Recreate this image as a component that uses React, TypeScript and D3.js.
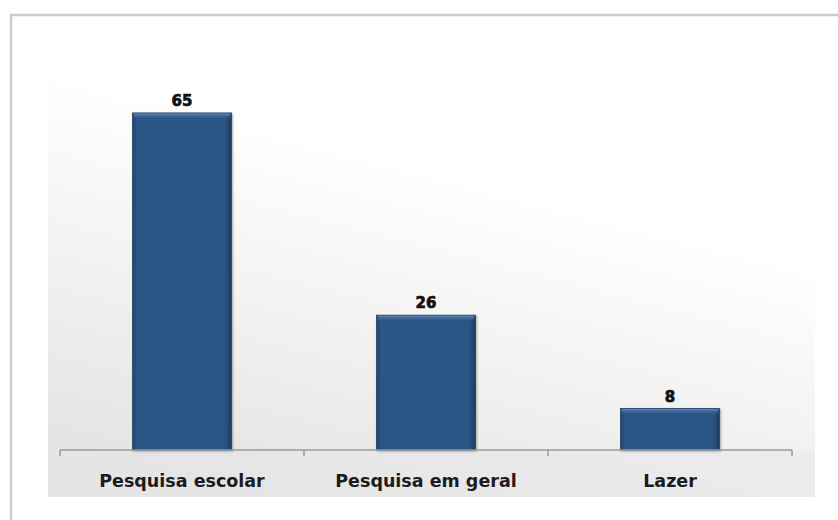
import React from 'react';
import * as d3 from 'd3';

const categories = ['Pesquisa escolar', 'Pesquisa em geral', 'Lazer'];
const values = [65, 26, 8];

const W = 838;
const H = 520;
const axisY = 450;
const axisX0 = 60;
const axisX1 = 792;

const App = () => {
  // band scale for the 3 categories, bars ~40% of each band
  const x = d3.scaleBand<string>()
    .domain(categories)
    .range([axisX0, axisX1])
    .paddingInner(0.595)
    .paddingOuter(0.2975);

  const y = d3.scaleLinear()
    .domain([0, 70])
    .range([axisY, 87]);

  // tick positions at band boundaries
  const step = x.step();
  const tickXs = d3.range(categories.length + 1).map(i => axisX0 + i * step);

  return (
    <svg width={W} height={H} style={{ position: 'fixed', left: 0, top: 0, display: 'block', background: '#fff' }}>
      <defs>
        <linearGradient id="panelGrad" x1="0.75" y1="0" x2="0.3" y2="1">
          <stop offset="0" stopColor="#ffffff" />
          <stop offset="0.3" stopColor="#ffffff" />
          <stop offset="1" stopColor="#e4e4e4" />
        </linearGradient>
        <linearGradient id="barSide" x1="0" y1="0" x2="1" y2="0">
          <stop offset="0" stopColor="#22466f" />
          <stop offset="0.05" stopColor="#2c5787" />
          <stop offset="0.93" stopColor="#2c5787" />
          <stop offset="1" stopColor="#1d3c62" />
        </linearGradient>
        <linearGradient id="barTop" x1="0" y1="0" x2="0" y2="1">
          <stop offset="0" stopColor="#6488b3" />
          <stop offset="1" stopColor="#2c5787" stopOpacity="0" />
        </linearGradient>
        <filter id="shadow" x="-10%" y="-10%" width="120%" height="120%">
          <feGaussianBlur in="SourceAlpha" stdDeviation="1.2" />
          <feOffset dx="1" dy="1" />
          <feComponentTransfer><feFuncA type="linear" slope="0.35" /></feComponentTransfer>
          <feMerge><feMergeNode /><feMergeNode in="SourceGraphic" /></feMerge>
        </filter>
      </defs>

      {/* outer frame, runs off the right and bottom */}
      <rect x={11} y={15} width={W + 20} height={H + 20} fill="#fff" stroke="#cdcdcd" strokeWidth={2.5} />

      {/* plot panel */}
      <rect x={48} y={60} width={767} height={437} fill="url(#panelGrad)" />
      <rect x={48} y={axisY + 1} width={767} height={497 - axisY - 1} fill="#e6e6e6" opacity={0.45} />

      {/* bars */}
      {categories.map((c, i) => {
        const bx = x(c)!;
        const bw = x.bandwidth();
        const by = y(values[i]);
        const bh = axisY - by;
        return (
          <g key={c}>
            <rect x={bx} y={by} width={bw} height={bh} fill="url(#barSide)" stroke="#1f3f66" strokeWidth={0.8} filter="url(#shadow)" />
            <rect x={bx + 1} y={by + 0.5} width={bw - 2} height={6} fill="url(#barTop)" />
            <text x={bx + bw / 2} y={by - 7} textAnchor="middle"
              fontFamily="DejaVu Sans, Verdana, sans-serif" fontWeight="bold" fontSize={15}
              fill="#111" stroke="#111" strokeWidth={0.7}>
              {values[i]}
            </text>
          </g>
        );
      })}

      {/* axis */}
      <line x1={axisX0} x2={axisX1} y1={axisY} y2={axisY} stroke="#9a9a9a" strokeWidth={1.5} />
      {tickXs.map((tx, i) => (
        <line key={i} x1={tx} x2={tx} y1={axisY} y2={axisY + 6} stroke="#9a9a9a" strokeWidth={1.5} />
      ))}

      {/* category labels */}
      {categories.map(c => (
        <text key={c} x={x(c)! + x.bandwidth() / 2} y={487} textAnchor="middle"
          fontFamily="DejaVu Sans, Verdana, sans-serif" fontWeight="bold" fontSize={17.5} fill="#1c1c1c">
          {c}
        </text>
      ))}
    </svg>
  );
};

export default App;
